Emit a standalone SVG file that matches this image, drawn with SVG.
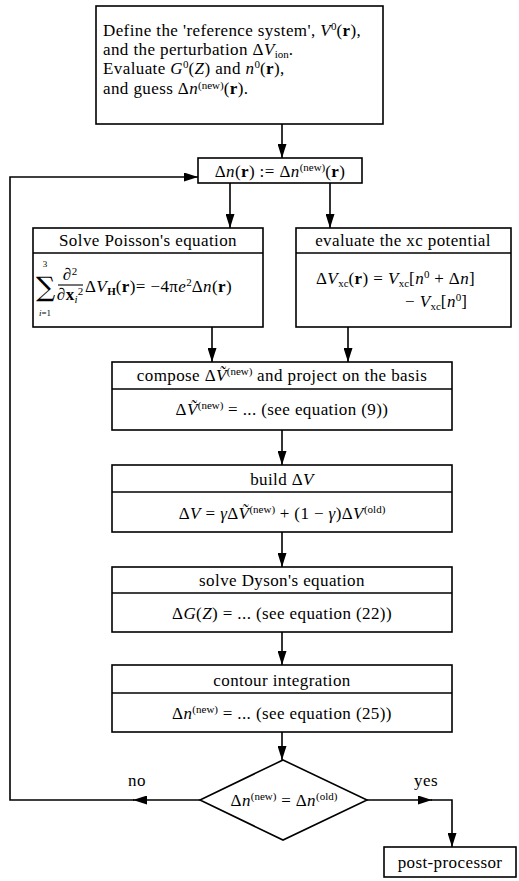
<svg xmlns="http://www.w3.org/2000/svg" width="519" height="881" viewBox="0 0 519 881">
<defs>
<style>
.box{fill:#fff;stroke:#000;stroke-width:1.6}
.ln{fill:none;stroke:#000;stroke-width:1.6}
.thin{stroke-width:1.1}
.t{font-family:"Liberation Serif","DejaVu Serif",serif;font-size:17px;letter-spacing:0.4px;fill:#000}
.c{text-anchor:middle}
.i{font-style:italic}
.b{font-weight:bold}
.s{font-size:11px;letter-spacing:0}
.xs{font-size:9px;letter-spacing:0}
.sum{font-family:"DejaVu Serif","Liberation Serif",serif;font-size:27px;letter-spacing:0}
</style>
<marker id="ah" markerWidth="14" markerHeight="9" refX="14" refY="4.5" orient="auto" markerUnits="userSpaceOnUse"><path d="M0,0 L14,4.5 L0,9 z" fill="#000"/></marker>
</defs>
<rect width="519" height="881" fill="#fff"/>
<g id="connectors">
<path class="ln" d="M282,124 V158" marker-end="url(#ah)"/>
<path class="ln" d="M230,183 V228" marker-end="url(#ah)"/>
<path class="ln" d="M330,183 V228" marker-end="url(#ah)"/>
<path class="ln" d="M212,327 V362" marker-end="url(#ah)"/>
<path class="ln" d="M348,327 V362" marker-end="url(#ah)"/>
<path class="ln" d="M282,430 V465" marker-end="url(#ah)"/>
<path class="ln" d="M282,532 V567" marker-end="url(#ah)"/>
<path class="ln" d="M282,632 V665" marker-end="url(#ah)"/>
<path class="ln" d="M282,732 V760" marker-end="url(#ah)"/>
<path class="ln" d="M200,800 H133" marker-end="url(#ah)"/>
<path class="ln" d="M134,800 H10 V177 H198" marker-end="url(#ah)"/>
<path class="ln" d="M367,800 H432" marker-end="url(#ah)"/>
<path class="ln" d="M431,800 H452 V847" marker-end="url(#ah)"/>
<text class="t c" x="137" y="786">no</text>
<text class="t c" x="426" y="786">yes</text>
</g>
<g id="start">
<rect class="box" x="96" y="6" width="287" height="118"/>
<text class="t" x="103" y="36">Define the 'reference system', <tspan class="i">V</tspan><tspan class="s" dy="-6">0</tspan><tspan dy="6">(</tspan><tspan class="b">r</tspan>),</text>
<text class="t" x="103" y="55">and the perturbation Δ<tspan class="i">V</tspan><tspan class="s" dy="3">ion</tspan><tspan dy="-3">.</tspan></text>
<text class="t" x="103" y="74">Evaluate <tspan class="i">G</tspan><tspan class="s" dy="-6">0</tspan><tspan dy="6">(</tspan><tspan class="i">Z</tspan>) and <tspan class="i">n</tspan><tspan class="s" dy="-6">0</tspan><tspan dy="6">(</tspan><tspan class="b">r</tspan>),</text>
<text class="t" x="103" y="94">and guess Δ<tspan class="i">n</tspan><tspan class="s" dy="-5">(new)</tspan><tspan dy="5">(</tspan><tspan class="b">r</tspan>).</text>
</g>
<g id="assign">
<rect class="box" x="198" y="158" width="164" height="25"/>
<text class="t c" x="280" y="177">Δ<tspan class="i">n</tspan>(<tspan class="b">r</tspan>) := Δ<tspan class="i">n</tspan><tspan class="s" dy="-6">(new)</tspan><tspan dy="6">(</tspan><tspan class="b">r</tspan>)</text>
</g>
<g id="poisson">
<rect class="box" x="33" y="228" width="230" height="99"/>
<line class="ln" x1="33" y1="253" x2="263" y2="253"/>
<text class="t c" x="148" y="246">Solve Poisson's equation</text>
<text class="sum" x="36" y="296">∑</text>
<text class="t c xs" x="45" y="267">3</text>
<text class="t c xs" x="45" y="316"><tspan class="i">i</tspan>=1</text>
<text class="t c" x="70" y="280">∂<tspan class="s" dy="-5">2</tspan></text>
<line class="ln thin" x1="58" y1="285" x2="83" y2="285"/>
<text class="t c" x="70" y="300">∂<tspan class="b">x</tspan><tspan class="s i" dy="3">i</tspan><tspan class="s" dy="-8">2</tspan></text>
<text class="t" x="85" y="292">Δ<tspan class="i">V</tspan><tspan class="s b" dy="3">H</tspan><tspan dy="-3">(</tspan><tspan class="b">r</tspan>)= −4π<tspan class="i">e</tspan><tspan class="s" dy="-6">2</tspan><tspan dy="6">Δ</tspan><tspan class="i">n</tspan>(<tspan class="b">r</tspan>)</text>
</g>
<g id="xc">
<rect class="box" x="296" y="228" width="215" height="99"/>
<line class="ln" x1="296" y1="253" x2="511" y2="253"/>
<text class="t c" x="403" y="246">evaluate the xc potential</text>
<text class="t" x="316" y="284">Δ<tspan class="i">V</tspan><tspan class="s" dy="3">xc</tspan><tspan dy="-3">(</tspan><tspan class="b">r</tspan>) = <tspan class="i">V</tspan><tspan class="s" dy="3">xc</tspan><tspan dy="-3">[</tspan><tspan class="i">n</tspan><tspan class="s" dy="-6">0</tspan><tspan dy="6"> + Δ</tspan><tspan class="i">n</tspan>]</text>
<text class="t" x="405" y="307">− <tspan class="i">V</tspan><tspan class="s" dy="3">xc</tspan><tspan dy="-3">[</tspan><tspan class="i">n</tspan><tspan class="s" dy="-6">0</tspan><tspan dy="6">]</tspan></text>
</g>
<g id="compose">
<rect class="box" x="112" y="362" width="340" height="68"/>
<line class="ln" x1="112" y1="389" x2="452" y2="389"/>
<text class="t c" x="282" y="381">compose Δ<tspan class="i">Ṽ</tspan><tspan class="s" dy="-6">(new)</tspan><tspan dy="6"> and project on the basis</tspan></text>
<text class="t c" x="282" y="415">Δ<tspan class="i">Ṽ</tspan><tspan class="s" dy="-6">(new)</tspan><tspan dy="6"> = ... (see equation (9))</tspan></text>
</g>
<g id="build">
<rect class="box" x="112" y="465" width="340" height="67"/>
<line class="ln" x1="112" y1="492" x2="452" y2="492"/>
<text class="t c" x="282" y="485">build Δ<tspan class="i">V</tspan></text>
<text class="t c" x="282" y="519">Δ<tspan class="i">V</tspan> = <tspan class="i">γ</tspan>Δ<tspan class="i">Ṽ</tspan><tspan class="s" dy="-6">(new)</tspan><tspan dy="6"> + (1 − </tspan><tspan class="i">γ</tspan>)Δ<tspan class="i">V</tspan><tspan class="s" dy="-6">(old)</tspan></text>
</g>
<g id="dyson">
<rect class="box" x="112" y="567" width="340" height="65"/>
<line class="ln" x1="112" y1="593" x2="452" y2="593"/>
<text class="t c" x="282" y="586">solve Dyson's equation</text>
<text class="t c" x="282" y="619">Δ<tspan class="i">G</tspan>(<tspan class="i">Z</tspan>) = ... (see equation (22))</text>
</g>
<g id="contour">
<rect class="box" x="112" y="665" width="340" height="67"/>
<line class="ln" x1="112" y1="693" x2="452" y2="693"/>
<text class="t c" x="282" y="686">contour integration</text>
<text class="t c" x="282" y="719">Δ<tspan class="i">n</tspan><tspan class="s" dy="-6">(new)</tspan><tspan dy="6"> = ... (see equation (25))</tspan></text>
</g>
<g id="decision">
<polygon class="box" points="283,760 367,800 283,840 200,800"/>
<text class="t c" x="284" y="806">Δ<tspan class="i">n</tspan><tspan class="s" dy="-6">(new)</tspan><tspan dy="6"> = Δ</tspan><tspan class="i">n</tspan><tspan class="s" dy="-6">(old)</tspan></text>
</g>
<g id="post">
<rect class="box" x="384" y="847" width="132" height="30"/>
<text class="t c" x="450" y="868">post-processor</text>
</g>
</svg>
